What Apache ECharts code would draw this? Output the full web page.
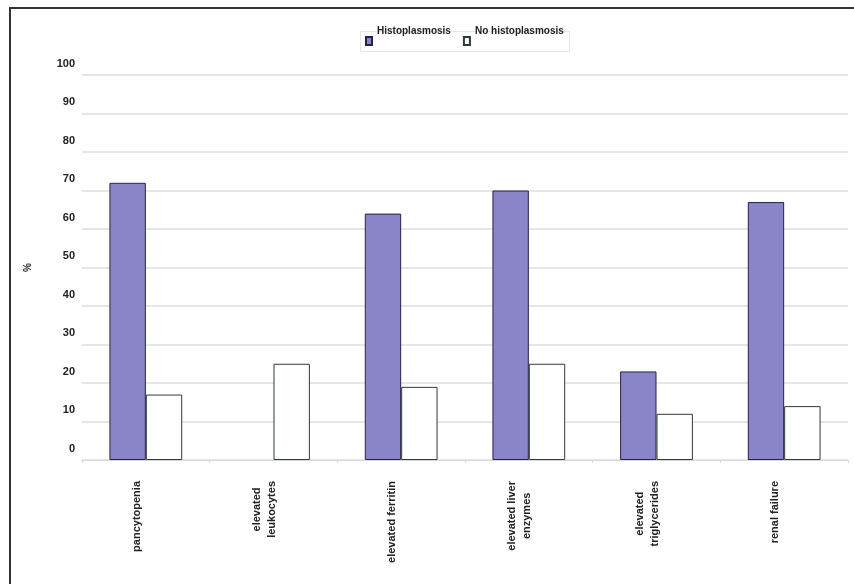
<!DOCTYPE html>
<html>
<head>
<meta charset="utf-8">
<script src="https://cdn.jsdelivr.net/npm/echarts@6/dist/echarts.min.js"></script>
<style>
html,body{margin:0;padding:0;background:#fff;}
#chart{width:854px;height:584px;}
</style>
</head>
<body>
<div id="chart"></div>
<script>
const categories = ['pancytopenia', 'elevated\nleukocytes', 'elevated ferritin', 'elevated liver\nenzymes', 'elevated\ntriglycerides', 'renal failure'];
const histoplasmosis = [72, 0, 64, 70, 23, 67];
const noHistoplasmosis = [17, 25, 19, 25, 12, 14];
const seriesNames = ['Histoplasmosis', 'No histoplasmosis'];
const yTicks = { min: 0, max: 100, interval: 10 };

const chart = echarts.init(document.getElementById('chart'), null, { renderer: 'canvas' });
const FONT = 'Liberation Sans, Arial, sans-serif';
const hideZero = arr => arr.map(v => v === 0 ? { value: v, itemStyle: { borderWidth: 0 } } : v);
chart.setOption({
  backgroundColor: '#ffffff',
  animation: false,
  graphic: [{
    type: 'rect',
    shape: { x: 10, y: 8, width: 1000, height: 1000 },
    style: { fill: 'none', stroke: '#333333', lineWidth: 2 },
    silent: true
  }, {
    type: 'rect', z: -1,
    shape: { x: 360.5, y: 31.5, width: 209, height: 20 },
    style: { fill: 'none', stroke: '#e6e6e6', lineWidth: 1 },
    silent: true
  }],
  legend: {
    left: 365, top: 22,
    padding: 0,
    icon: 'rect',
    itemWidth: 6, itemHeight: 8, itemGap: 12,
    data: seriesNames,
    formatter: name => name + '\n',
    textStyle: { fontFamily: FONT, fontSize: 10, fontWeight: 'bold', color: '#222', lineHeight: 19 }
  },
  grid: { left: 82, right: 6, top: 75, bottom: 124, containLabel: false },
  xAxis: {
    type: 'category',
    data: categories,
    axisLine: { lineStyle: { color: '#d8d8d8', width: 1 } },
    axisTick: { show: true, length: 3, lineStyle: { color: '#d8d8d8' } },
    axisLabel: {
      rotate: 90, margin: 21, interval: 0,
      padding: [0, 0, 18, 0],
      formatter: v => v.split('\n').map(s => '{c|' + s + '}').join('\n'),
      rich: { c: { align: 'center', fontFamily: FONT, fontSize: 11, fontWeight: 'bold', color: '#222', lineHeight: 15 } }
    }
  },
  yAxis: {
    type: 'value', min: yTicks.min, max: yTicks.max, interval: yTicks.interval,
    name: '%', nameLocation: 'middle', nameRotate: 90, nameGap: 49,
    nameTextStyle: { fontFamily: FONT, fontSize: 10, fontWeight: 'bold', color: '#222' },
    axisLine: { show: false }, axisTick: { show: false },
    splitLine: { lineStyle: { color: '#dedede', width: 1.5 } },
    axisLabel: {
      fontFamily: FONT, fontSize: 11, fontWeight: 'bold', color: '#222',
      margin: 7, verticalAlign: 'bottom', padding: [0, 0, 6, 0]
    }
  },
  series: [{
    name: seriesNames[0], type: 'bar', data: hideZero(histoplasmosis),
    barGap: '0%', barCategoryGap: '43%',
    itemStyle: { color: '#8a84c8', borderColor: '#23234a', borderWidth: 1 }
  }, {
    name: seriesNames[1], type: 'bar', data: hideZero(noHistoplasmosis),
    barGap: '0%', barCategoryGap: '43%',
    itemStyle: { color: '#ffffff', borderColor: '#2c3a3a', borderWidth: 1 }
  }]
});
</script>
</body>
</html>
